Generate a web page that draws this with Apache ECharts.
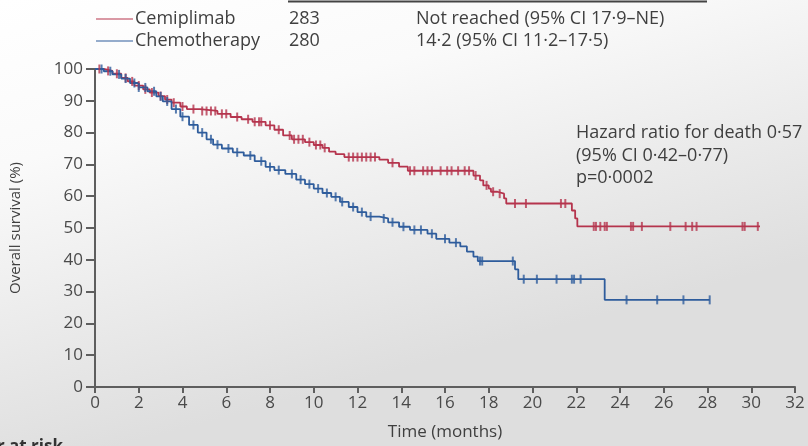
<!DOCTYPE html>
<html>
<head>
<meta charset="utf-8">
<script src="https://cdn.jsdelivr.net/npm/echarts@6/dist/echarts.min.js"></script>
<style>
html,body{margin:0;padding:0;}
#chart{width:808px;height:446px;}
</style>
</head>
<body>
<div id="chart"></div>
<script>
// ---------- data ----------
const armNames = ['Cemiplimab', 'Chemotherapy'];
const armN = ['283', '280'];
const armMedian = ['Not reached (95% CI 17·9–NE)', '14·2 (95% CI 11·2–17·5)'];
const xTicks = [0,2,4,6,8,10,12,14,16,18,20,22,24,26,28,30,32];
const yTicks = [0,10,20,30,40,50,60,70,80,90,100];
const hazardLines = ['Hazard ratio for death 0·57', '(95% CI 0·42–0·77)', 'p=0·0002'];
const xTitle = 'Time (months)';
const yTitle = 'Overall survival (%)';
const riskTitle = 'Number at risk';

// Kaplan–Meier steps [month, survival %]
const cemiCurve = [
  [0,100],[0.4,99.4],[0.8,98.5],[1.2,97.2],[1.5,96.1],[1.8,94.8],[2.2,93.6],[2.5,92.6],
  [2.9,91.5],[3.2,90.4],[3.5,89.4],[3.9,88.2],[4.2,87.4],[4.8,86.8],[5.6,85.9],[6.2,84.9],
  [6.7,84.2],[7.2,83.4],[7.8,82.3],[8.2,80.9],[8.6,79.1],[9.0,77.9],[9.6,77.0],[10.0,76.1],
  [10.4,75.2],[10.7,74.0],[11.0,73.2],[11.4,72.3],[13.0,71.5],[13.4,70.5],[13.9,69.3],[14.3,68.0],
  [17.3,66.5],[17.6,65.0],[17.75,63.4],[18.0,62.4],[18.1,61.4],[18.4,60.8],[18.7,59.3],[18.8,57.7],
  [21.8,55.5],[21.95,53.0],[22.05,50.5],[30.4,50.5]
];
const chemoCurve = [
  [0,100],[0.4,99.3],[0.8,98.3],[1.2,97.0],[1.6,95.6],[2.0,94.2],[2.4,93.0],[2.8,91.4],
  [3.1,89.8],[3.5,87.4],[3.9,85.0],[4.3,82.4],[4.7,80.0],[5.1,77.9],[5.4,76.2],[5.8,75.0],
  [6.3,73.8],[6.8,72.8],[7.3,71.0],[7.8,69.2],[8.2,68.2],[8.7,67.0],[9.2,65.2],[9.6,63.8],
  [10.0,62.4],[10.4,61.0],[10.8,59.8],[11.2,58.2],[11.6,56.6],[12.0,55.0],[12.4,53.6],[13.0,53.0],
  [13.4,51.8],[13.9,50.4],[14.4,49.4],[15.2,48.2],[15.6,46.6],[16.2,45.4],[16.7,44.2],[17.0,42.6],
  [17.3,41.0],[17.5,39.6],[19.2,37.0],[19.35,33.9],[23.3,27.4],[28.1,27.4]
];
// censoring times (months)
const cemiCensor = [0.2,0.6,1.0,1.4,1.7,2.0,2.3,2.6,3.0,3.3,3.6,4.0,4.5,4.9,5.1,5.3,5.5,5.8,6.0,6.5,7.0,7.3,7.5,7.6,8.0,8.4,
  8.9,9.1,9.3,9.5,9.8,10.1,10.3,10.5,11.6,11.8,12.0,12.2,12.4,12.6,12.8,13.6,14.4,14.6,15.0,15.2,15.4,15.8,16.1,16.3,16.6,16.9,17.1,
  17.4,17.9,18.2,18.5,19.2,19.7,21.3,21.5,22.8,22.9,23.1,23.3,23.4,24.5,24.6,25.0,26.3,27.0,27.3,27.5,29.6,29.7,30.3];
const chemoCensor = [0.3,0.7,1.1,1.4,1.8,2.0,2.3,2.7,3.0,3.3,3.7,4.0,4.5,4.9,5.3,5.6,6.1,6.5,7.1,7.6,8.0,8.4,9.0,9.4,9.8,10.2,10.6,11.0,
  11.3,11.8,12.2,12.6,13.2,13.6,14.1,14.6,14.9,15.4,16.0,16.5,17.6,17.7,19.1,19.6,20.2,21.1,21.8,21.9,22.2,24.3,25.7,26.9,28.1];

// ---------- build ----------
const RED = '#b5344d';
const BLUE = '#2e5c9c';
function survAt(curve, t) {
  let v = curve[0][1];
  for (const p of curve) { if (p[0] <= t) v = p[1]; else break; }
  return v;
}
const cemiMarks = cemiCensor.map(t => [t, survAt(cemiCurve, t)]);
const chemoMarks = chemoCensor.map(t => [t, survAt(chemoCurve, t)]);

const chart = echarts.init(document.getElementById('chart'));
const fontFam = '"Open Sans", "DejaVu Sans", sans-serif';
const TXT = '#3f3f3f';
const axisCommon = {
  axisLine: { show: true, lineStyle: { color: '#5e5e5e', width: 2 } },
  splitLine: { show: false },
  axisLabel: { color: '#4a4a4a', fontSize: 17, fontFamily: fontFam }
};
const legendGraphics = [];
[0,1].forEach(i => {
  const y = 19 + i * 22;
  legendGraphics.push({ type: 'line', shape: { x1: 96, y1: y, x2: 133, y2: y }, style: { stroke: i ? BLUE : RED, lineWidth: 1.2 } });
  legendGraphics.push({ type: 'text', x: 135, y: y, style: { text: armNames[i], fill: TXT, font: '18px ' + fontFam, verticalAlign: 'middle' } });
  legendGraphics.push({ type: 'text', x: 289, y: y, style: { text: armN[i], fill: TXT, font: '18px ' + fontFam, verticalAlign: 'middle' } });
  legendGraphics.push({ type: 'text', x: 416, y: y, style: { text: armMedian[i], fill: TXT, font: '18px ' + fontFam, verticalAlign: 'middle' } });
});

chart.setOption({
  animation: false,
  backgroundColor: {
    type: 'linear', x: 0, y: 0, x2: 0.15, y2: 1,
    colorStops: [{ offset: 0, color: '#ffffff' }, { offset: 0.35, color: '#fafafa' }, { offset: 1, color: '#dedede' }]
  },
  grid: { left: 95, right: 13, top: 69, bottom: 55 },
  xAxis: Object.assign({}, axisCommon, {
    type: 'value', min: 0, max: 32, interval: 2,
    axisTick: { show: true, inside: false, length: 6, lineStyle: { color: '#5e5e5e', width: 2 } },
    name: xTitle, nameLocation: 'middle', nameGap: 37,
    nameTextStyle: { color: TXT, fontSize: 17, fontFamily: fontFam },
    axisLabel: Object.assign({}, axisCommon.axisLabel, { margin: 8, formatter: v => xTicks.includes(v) ? String(v) : '' })
  }),
  yAxis: Object.assign({}, axisCommon, {
    type: 'value', min: 0, max: 100, interval: 10,
    axisTick: { show: true, inside: false, length: 9, lineStyle: { color: '#5e5e5e', width: 2 } },
    name: yTitle, nameLocation: 'middle', nameGap: 72, nameRotate: 90,
    nameTextStyle: { color: TXT, fontSize: 15, fontFamily: fontFam },
    axisLabel: Object.assign({}, axisCommon.axisLabel, { margin: 12, formatter: v => yTicks.includes(v) ? String(v) : '' })
  }),
  series: [
    { name: armNames[0], type: 'line', step: 'end', data: cemiCurve, showSymbol: false, lineStyle: { color: RED, width: 1.8 }, z: 3 },
    { name: armNames[1], type: 'line', step: 'end', data: chemoCurve, showSymbol: false, lineStyle: { color: BLUE, width: 1.8 }, z: 3 },
    { type: 'scatter', data: cemiMarks, symbol: 'rect', symbolSize: [2, 9], itemStyle: { color: RED }, z: 4 },
    { type: 'scatter', data: chemoMarks, symbol: 'rect', symbolSize: [2, 9], itemStyle: { color: BLUE }, z: 4 }
  ],
  graphic: legendGraphics.concat([
    { type: 'line', shape: { x1: 288, y1: 1.5, x2: 707, y2: 1.5 }, style: { stroke: '#444', lineWidth: 2 } },
    { type: 'text', x: 576, y: 133, style: { text: hazardLines[0], fill: TXT, font: '18px ' + fontFam, verticalAlign: 'middle' } },
    { type: 'text', x: 576, y: 156, style: { text: hazardLines[1], fill: TXT, font: '18px ' + fontFam, verticalAlign: 'middle' } },
    { type: 'text', x: 576, y: 178, style: { text: hazardLines[2], fill: TXT, font: '18px ' + fontFam, verticalAlign: 'middle' } },
    { type: 'text', x: 63, y: 439, style: { text: riskTitle, fill: '#333', font: 'bold 17px ' + fontFam, align: 'right', verticalAlign: 'top' } }
  ])
});
</script>
</body>
</html>
